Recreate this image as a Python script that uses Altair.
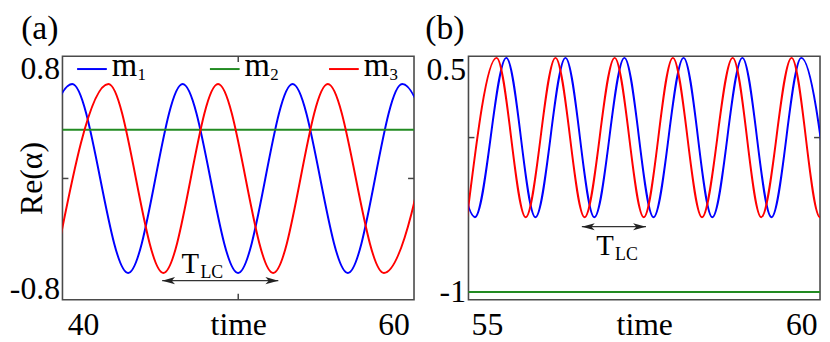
import altair as alt
import pandas as pd

FONT = "Liberation Serif"

series_names = ["m1", "m2", "m3"]
series_colors = ["#0000ff", "#228b22", "#ff0000"]

# ---------- panel (a): extrema (time, value) ----------
a_m1_t = [35.76, 39.31, 42.91, 46.42, 49.99, 53.50, 57.06, 60.56, 64.11]
a_m1_v = [-0.686, 0.686, -0.686, 0.686, -0.686, 0.686, -0.686, 0.686, -0.686]
a_m2_t = [35.0, 65.0]
a_m2_v = [0.353, 0.353]
a_m3_t = [38.10, 41.64, 45.18, 48.70, 52.25, 55.77, 59.38, 62.92]
a_m3_v = [-0.686, 0.686, -0.686, 0.686, -0.686, 0.686, -0.686, 0.686]

# ---------- panel (b) ----------
b_m1_t = [54.34, 54.81, 55.309, 55.772, 56.25, 56.709, 57.187, 57.65,
          58.128, 58.585, 59.063, 59.526, 60.0, 60.47]
b_m1_v = [0.516, -0.515, 0.516, -0.515, 0.516, -0.515, 0.516, -0.515,
          0.516, -0.515, 0.516, -0.515, 0.516, -0.515]
b_m2_t = [54.0, 61.0]
b_m2_v = [-1.0, -1.0]
b_m3_t = [54.685, 55.154, 55.617, 56.091, 56.554, 57.032, 57.495, 57.958,
          58.421, 58.909, 59.363, 59.846, 60.298, 60.77]
b_m3_v = [-0.515, 0.516, -0.515, 0.516, -0.515, 0.516, -0.515, 0.516,
          -0.515, 0.516, -0.515, 0.516, -0.515, 0.516]

# axes
a_x_domain = [38.68, 61.32]
a_y_domain = [-0.881, 0.888]
a_x_labels = [40, 60]
a_y_labels = [-0.8, 0.8]
a_x_ticks = [50]
a_y_ticks = [0]

b_x_domain = [54.707, 60.298]
b_y_domain = [-1.05, 0.527]
b_x_labels = [55, 60]
b_y_labels = [-1, 0.5]
b_x_ticks = []
b_y_ticks = [0]

# T_LC annotations (data coordinates)
a_arrow_t = [45.10, 52.58]
a_arrow_v = -0.742
a_tlc_t = 46.35
a_tlc_v = -0.685
b_arrow_t = [56.51, 57.53]
b_arrow_v = -0.577
b_tlc_t = 56.74
b_tlc_v = -0.76

panel_tags = ["(a)", "(b)"]
legend_labels = ["m", "m", "m"]
legend_subs = ["1", "2", "3"]

H = 246
WA = 355
WB = 355

LEFT_HEAD = "M0,0L2,-0.55L1.5,0L2,0.55Z"
RIGHT_HEAD = "M0,0L-2,-0.55L-1.5,0L-2,0.55Z"


def series_df(ts, vs, name):
    return pd.DataFrame({"t": ts, "v": vs, "s": [name] * len(ts)})


def panel(dfs, xdom, ydom, xlabels, ylabels, xticks, yticks,
          arrow_t, arrow_v, tlc_t, tlc_v, tag, ytitle, W, ylab_offset, legend):
    xs = alt.Scale(domain=xdom, nice=False, zero=False)
    ys = alt.Scale(domain=ydom, nice=False, zero=False)
    common = dict(domain=False, ticks=False, tickSize=0, grid=False,
                  labelFont=FONT, labelFontSize=32, labelColor="black",
                  labelFlush=False, labelExpr="'' + datum.value",
                  titleFont=FONT, titleFontSize=32,
                  titleFontWeight="normal", titleColor="black")
    x_axis = alt.Axis(values=xlabels, title="time", labelPadding=10,
                      titleY=35, titleBaseline="alphabetic", **common)
    y_kw = dict(values=ylabels, labelPadding=3, **common)
    if ytitle:
        y_kw.update(title=ytitle, titleX=-21, titleY=H / 2, titleAngle=-90,
                    titleBaseline="alphabetic", titleAlign="center")
    else:
        y_kw.update(title=None)
    if ylab_offset:
        y_kw.update(labelOffset={"condition": {"test": "datum.value > 0", "value": ylab_offset}, "value": 0})
    y_axis = alt.Axis(**y_kw)

    X = lambda f: alt.X(f, scale=xs, axis=x_axis)
    Y = lambda f: alt.Y(f, scale=ys, axis=y_axis)

    df = pd.concat(dfs, ignore_index=True)
    lines = alt.Chart(df).mark_line(interpolate="monotone", clip=True, strokeWidth=2).encode(
        x=X("t:Q"),
        y=Y("v:Q"),
        color=alt.Color("s:N", scale=alt.Scale(domain=series_names, range=series_colors), legend=None),
    )
    layers = [lines]

    tick_style = dict(color="#444", strokeWidth=1.5)
    if yticks:
        ydf = pd.DataFrame({"v": yticks})
        layers.append(alt.Chart(ydf).mark_rule(**tick_style).encode(
            y=Y("v:Q"), x=alt.value(0), x2=alt.value(6)))
        layers.append(alt.Chart(ydf).mark_rule(**tick_style).encode(
            y=Y("v:Q"), x=alt.value(W - 6), x2=alt.value(W)))
    if xticks:
        xdf = pd.DataFrame({"t": xticks})
        layers.append(alt.Chart(xdf).mark_rule(**tick_style).encode(
            x=X("t:Q"), y=alt.value(H - 6), y2=alt.value(H)))
        layers.append(alt.Chart(xdf).mark_rule(**tick_style).encode(
            x=X("t:Q"), y=alt.value(0), y2=alt.value(6)))

    # T_LC arrow
    adf = pd.DataFrame({"t": [arrow_t[0]], "t2": [arrow_t[1]], "v": [arrow_v]})
    layers.append(alt.Chart(adf).mark_rule(color="#333", strokeWidth=1.3).encode(
        x=X("t:Q"), x2="t2:Q", y=Y("v:Q")))
    hl = pd.DataFrame({"t": [arrow_t[0]], "v": [arrow_v]})
    hr = pd.DataFrame({"t": [arrow_t[1]], "v": [arrow_v]})
    layers.append(alt.Chart(hl).mark_point(shape=LEFT_HEAD, filled=True, size=169, color="#222", opacity=1).encode(
        x=X("t:Q"), y=Y("v:Q")))
    layers.append(alt.Chart(hr).mark_point(shape=RIGHT_HEAD, filled=True, size=169, color="#222", opacity=1).encode(
        x=X("t:Q"), y=Y("v:Q")))
    tdf = pd.DataFrame({"t": [tlc_t], "v": [tlc_v], "main": ["T"], "sub": ["LC"]})
    layers.append(alt.Chart(tdf).mark_text(align="left", baseline="alphabetic", font=FONT, fontSize=29, color="black").encode(
        x=X("t:Q"), y=Y("v:Q"), text="main:N"))
    layers.append(alt.Chart(tdf).mark_text(align="left", baseline="alphabetic", font=FONT, fontSize=18, color="black", dx=19, dy=5).encode(
        x=X("t:Q"), y=Y("v:Q"), text="sub:N"))

    # panel tag
    gdf = pd.DataFrame({"tag": [tag]})
    layers.append(alt.Chart(gdf).mark_text(align="right", baseline="alphabetic", font=FONT, fontSize=34, color="black").encode(
        x=alt.value(-4), y=alt.value(-17), text="tag:N"))

    if legend:
        k = W / 360.0
        starts = [15, 151, 273]
        for name, col, lab, sub, x0 in zip(series_names, series_colors, legend_labels, legend_subs, starts):
            ldf = pd.DataFrame({"lab": [lab], "sub": [sub]})
            xs0 = x0 * k
            layers.append(alt.Chart(ldf).mark_rule(strokeWidth=2).encode(
                x=alt.value(xs0), x2=alt.value(xs0 + 30), y=alt.value(13), color=alt.value(col)))
            layers.append(alt.Chart(ldf).mark_text(align="left", baseline="alphabetic", font=FONT, fontSize=33, color="black").encode(
                x=alt.value(xs0 + 35), y=alt.value(20), text="lab:N"))
            layers.append(alt.Chart(ldf).mark_text(align="left", baseline="alphabetic", font=FONT, fontSize=17, color="black").encode(
                x=alt.value(xs0 + 61), y=alt.value(24), text="sub:N"))

    return alt.layer(*layers).properties(width=W, height=H)


pa = panel([series_df(a_m1_t, a_m1_v, "m1"), series_df(a_m2_t, a_m2_v, "m2"), series_df(a_m3_t, a_m3_v, "m3")],
           a_x_domain, a_y_domain, a_x_labels, a_y_labels, a_x_ticks, a_y_ticks,
           a_arrow_t, a_arrow_v, a_tlc_t, a_tlc_v, panel_tags[0], "Re(α)", WA, 0, True)
pb = panel([series_df(b_m1_t, b_m1_v, "m1"), series_df(b_m2_t, b_m2_v, "m2"), series_df(b_m3_t, b_m3_v, "m3")],
           b_x_domain, b_y_domain, b_x_labels, b_y_labels, b_x_ticks, b_y_ticks,
           b_arrow_t, b_arrow_v, b_tlc_t, b_tlc_v, panel_tags[1], None, WB, 9, False)

chart = alt.hconcat(pa, pb, spacing=8).resolve_scale(x="independent", y="independent").properties(
    padding={"top": 2, "left": 0, "right": 0, "bottom": 0}, background="white"
).configure_view(stroke="#4a4a4a", strokeWidth=1.6)

chart.save("out.html", embed_options={"renderer": "svg", "actions": False})
